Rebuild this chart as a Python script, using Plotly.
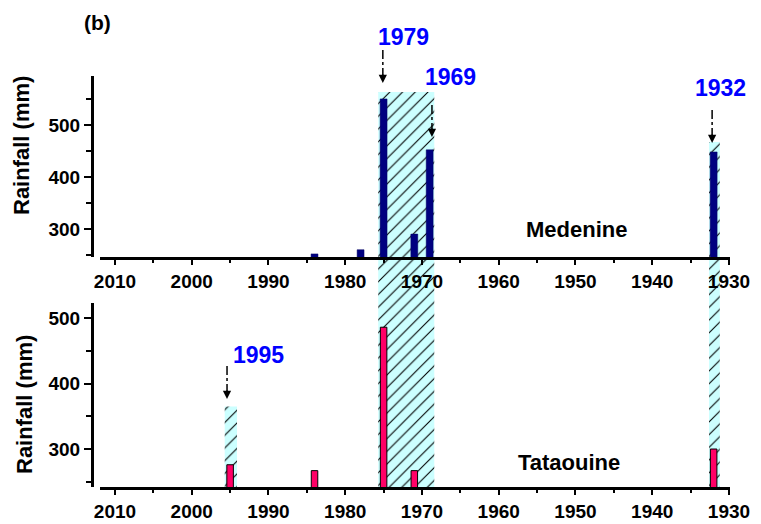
import plotly.graph_objects as go

W, H = 761, 524

# Extreme rainfall years and amounts (mm)
med_years = [1984, 1978, 1975, 1971, 1969, 1932]
med_rain = [252, 260, 550, 290, 452, 448]

tat_years = [1995, 1984, 1975, 1971, 1932]
tat_rain = [276, 267, 486, 267, 300]

# Highlighted wet periods: (start year, end year, top rainfall, panel of the top)
period_start = [1968.4, 1931.2, 1994.1]
period_end = [1975.7, 1932.6, 1995.7]
period_top = [563, 467, 365]
period_panel = ["top", "top", "bottom"]

# Arrow annotations: label, year pointed at
event_labels = ["1979", "1969", "1932", "1995"]
event_years = [1975.1, 1968.7, 1932.2, 1995.4]

x_ticks = [2010, 2000, 1990, 1980, 1970, 1960, 1950, 1940, 1930]
y_ticks = [300, 400, 500]

FONT = "Liberation Sans"


def px_x(px):
    return px / W


def px_y(py):
    return 1 - py / H


X_DOM = [px_x(100), px_x(730)]
X_RANGE = [2011.95, 1929.87]

TOP_DOM = [px_y(257), px_y(76)]
TOP_RANGE = [246, 594]
BOT_DOM = [px_y(487), px_y(303)]
BOT_RANGE = [242, 523]


def to_paper(v, panel):
    dom, rng = (TOP_DOM, TOP_RANGE) if panel == "top" else (BOT_DOM, BOT_RANGE)
    return dom[0] + (v - rng[0]) / (rng[1] - rng[0]) * (dom[1] - dom[0])


fig = go.Figure()

# Hatched cyan bands spanning both panels (own invisible subplot, drawn first)
band_bottom = BOT_DOM[0]
fig.add_trace(go.Bar(
    x=[(s + e) / 2 for s, e in zip(period_start, period_end)],
    width=[e - s for s, e in zip(period_start, period_end)],
    base=[band_bottom] * len(period_start),
    y=[to_paper(t, p) - band_bottom for t, p in zip(period_top, period_panel)],
    marker=dict(
        color="#ccffff",
        line=dict(width=0),
        pattern=dict(shape="/", fgcolor="#000000", bgcolor="#ccffff",
                     size=9, solidity=0.12, fillmode="replace"),
    ),
    xaxis="x", yaxis="y", hoverinfo="skip", showlegend=False,
))

# Medenine bars
fig.add_trace(go.Bar(
    x=med_years, y=med_rain, width=0.9,
    marker=dict(color="#000080", line=dict(color="#000060", width=0.5)),
    xaxis="x2", yaxis="y2", showlegend=False,
))

# Tataouine bars
fig.add_trace(go.Bar(
    x=tat_years, y=tat_rain, width=0.85,
    marker=dict(color="#ff0066", line=dict(color="#000000", width=1)),
    xaxis="x3", yaxis="y3", showlegend=False,
))

tickfont = dict(family=FONT, size=19, color="black", weight="bold")

x_common = dict(
    domain=X_DOM, range=X_RANGE, autorange=False, automargin=False,
    showline=True, linecolor="black", linewidth=3,
    ticks="outside", ticklen=5, tickwidth=2, tickcolor="black",
    tickvals=x_ticks, ticktext=[str(v) for v in x_ticks],
    minor=dict(ticks="outside", dtick=5, tick0=2010, ticklen=3, tickwidth=2, tickcolor="black"),
    tickfont=tickfont, ticklabelstandoff=0,
    showgrid=False, zeroline=False, fixedrange=True,
)

y_common = dict(
    anchor="free", position=px_x(92), automargin=False,
    showline=True, linecolor="black", linewidth=3,
    ticks="outside", ticklen=7, tickwidth=2, tickcolor="black",
    tickvals=y_ticks, ticktext=[str(v) for v in y_ticks],
    minor=dict(ticks="outside", dtick=50, tick0=250, ticklen=5, tickwidth=2, tickcolor="black"),
    tickfont=tickfont,
    showgrid=False, zeroline=False, fixedrange=True,
)

fig.update_layout(
    width=W, height=H,
    margin=dict(l=0, r=0, t=0, b=0, pad=0, autoexpand=False),
    paper_bgcolor="white", plot_bgcolor="rgba(0,0,0,0)",
    barmode="overlay",
    xaxis=dict(domain=X_DOM, range=X_RANGE, visible=False, fixedrange=True, automargin=False),
    yaxis=dict(domain=[0, 1], range=[0, 1], visible=False, fixedrange=True, automargin=False),
    xaxis2=dict(anchor="y2", **x_common),
    yaxis2=dict(domain=TOP_DOM, range=TOP_RANGE, **y_common),
    xaxis3=dict(anchor="y3", **x_common),
    yaxis3=dict(domain=BOT_DOM, range=BOT_RANGE, **y_common),
)

annotations = []
shapes = []

lab_font = dict(family=FONT, size=22, color="black", weight="bold")
yr_font = dict(family=FONT, size=23, color="#0000ff", weight="bold")


def text_at(text, x, y, font, angle=0):
    return dict(text=text, x=px_x(x), y=px_y(y), xref="paper", yref="paper",
                xanchor="center", yanchor="middle", textangle=angle,
                showarrow=False, font=font)


annotations.append(text_at("(b)", 97, 22, dict(family=FONT, size=21, color="black", weight="bold")))
annotations.append(text_at("Rainfall (mm)", 22, 146, lab_font, -90))
annotations.append(text_at("Rainfall (mm)", 24, 405, lab_font, -90))
annotations.append(text_at("Medenine", 576, 229, lab_font))
annotations.append(text_at("Tataouine", 569, 462, lab_font))

# Year labels (pixel centres) and arrow spans (pixel tail/tip)
label_pos = [(403, 37), (450, 77), (720, 88), (258, 355)]
arrow_span = [(50, 83), (105, 137), (110, 143), (366, 399)]

for text, yr, (lx, ly), (y0, y1) in zip(event_labels, event_years, label_pos, arrow_span):
    annotations.append(text_at(text, lx, ly, yr_font))
    shapes.append(dict(type="line", xref="x2", yref="paper", x0=yr, x1=yr,
                       y0=px_y(y0), y1=px_y(y1 - 8),
                       line=dict(color="black", width=1.5, dash="dashdot")))
    annotations.append(dict(text="", x=yr, y=px_y(y1), xref="x2", yref="paper",
                            ax=0, ay=-10, showarrow=True, arrowhead=2, arrowsize=1.1,
                            arrowwidth=1.5, arrowcolor="black"))

fig.update_layout(annotations=annotations, shapes=shapes)

fig.write_html("out.html")
